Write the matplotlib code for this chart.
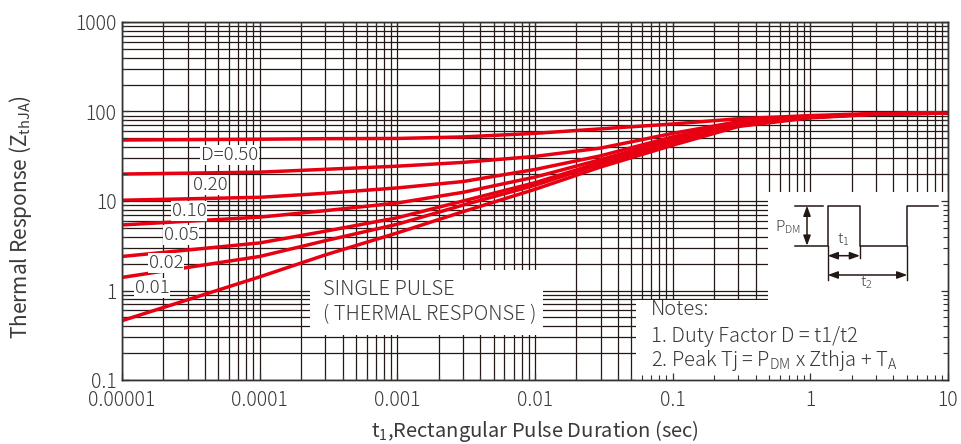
import matplotlib
matplotlib.use('Agg')
import matplotlib.pyplot as plt
from matplotlib.patches import Rectangle

plt.rcParams['font.family'] = ['Noto Sans CJK JP', 'DejaVu Sans']
plt.rcParams['mathtext.default'] = 'regular'

# ---- data ----
t = [1e-5, 1e-4, 3e-4, 1e-3, 3e-3, 1e-2, 3e-2, 1e-1, 3e-1, 1, 3, 10]
z_d050 = [48, 49, 49.7, 50, 52, 57, 64, 72.5, 83, 90, 95, 96]
z_d020 = [20, 21, 22.6, 24.5, 27, 31.5, 39, 57, 77, 88, 94, 96]
z_d010 = [10.2, 11, 12.2, 14, 16.5, 22.5, 32, 52, 74, 87, 94, 96]
z_d005 = [5.4, 6.6, 7.8, 9.5, 12.5, 18.5, 29, 49, 72, 87, 94, 96]
z_d002 = [2.4, 3.4, 4.6, 6.5, 10, 16, 27, 47, 71, 86, 94, 96]
z_d001 = [1.4, 2.4, 3.6, 5.5, 9, 15, 26, 44.5, 70, 86, 94, 96]
z_single = [0.46, 1.42, 2.5, 4.4, 7.6, 13.5, 24, 42, 68, 85, 93, 96]

series = [z_d050, z_d020, z_d010, z_d005, z_d002, z_d001, z_single]
curve_labels = ['D=0.50', '0.20', '0.10', '0.05', '0.02', '0.01']
label_t = [6.0e-5, 4.35e-5, 3.07e-5, 2.68e-5, 2.09e-5, 1.65e-5]
label_z = [32.7, 15.1, 7.7, 4.17, 2.03, 1.07]

x_ticks = [1e-5, 1e-4, 1e-3, 1e-2, 1e-1, 1, 10]
x_ticklabels = ['0.00001', '0.0001', '0.001', '0.01', '0.1', '1', '10']
y_ticks = [0.1, 1, 10, 100, 1000]
y_ticklabels = ['0.1', '1', '10', '100', '1000']

RED = '#e60012'
GRID = '#231815'
TXT = '#3a3a3a'
W = 'light'

fig = plt.figure(figsize=(9.62, 4.44), dpi=100)
pos = [122/962, 1-380/444, 826/962, 358/444]
ax = fig.add_axes(pos)
ax.set_xscale('log')
ax.set_yscale('log')
ax.set_xlim(1e-5, 10)
ax.set_ylim(0.1, 1000)
ax.set_axisbelow(True)
ax.grid(True, which='both', color=GRID, lw=0.9)
ax.set_xticks(x_ticks)
ax.set_xticklabels(x_ticklabels, fontweight=W)
ax.set_yticks(y_ticks)
ax.set_yticklabels(y_ticklabels, fontweight=W)
ax.tick_params(which='both', length=0, labelsize=14, labelcolor=TXT)
ax.tick_params(axis='x', pad=7)
ax.tick_params(axis='y', pad=4)
for s in ax.spines.values():
    s.set_color('#333333')
    s.set_linewidth(1.0)

for z in series:
    ax.plot(t, z, color=RED, lw=2.5, zorder=3, solid_capstyle='butt', solid_joinstyle='round')

for lab, lx, lz in zip(curve_labels, label_t, label_z):
    ax.text(lx, lz, lab, fontsize=13.5, color=TXT, ha='center', va='center', zorder=5,
            fontweight=W, bbox=dict(facecolor='white', edgecolor='none', pad=0.5))

def fx(px):
    return (px - 122) / 826

def fy(py):
    return (380 - py) / 358

# white panels
for (x0, y0, x1, y1) in [(310, 270, 543, 335), (636, 300, 948, 380), (768, 192, 948, 300)]:
    ax.add_patch(Rectangle((fx(x0), fy(y1)), fx(x1) - fx(x0), fy(y0) - fy(y1),
                           transform=ax.transAxes, facecolor='white', edgecolor='none', zorder=1))

tk = dict(transform=ax.transAxes, fontsize=14.5, color=TXT, ha='left', zorder=5, fontweight=W)
ax.text(fx(323), fy(289), 'SINGLE PULSE', va='center', **tk)
ax.text(fx(323), fy(315), '( THERMAL RESPONSE )', va='center', **tk)
ax.text(fx(651), fy(309), 'Notes:', va='center', **tk)
ax.text(fx(651), fy(336), '1. Duty Factor D = t1/t2', va='center', **tk)
ax.text(fx(651), fy(366), '2. Peak Tj = P$_{DM}$ x Zthja + T$_{A}$', va='baseline', **tk)

# pulse diagram
K = '#231815'
wx = [795, 827.7, 827.7, 860, 860, 907.3, 907.3, 938.3]
wy = [245.7, 245.7, 205.7, 205.7, 245.7, 245.7, 205.7, 205.7]
ax.plot([fx(v) for v in wx], [fy(v) for v in wy], transform=ax.transAxes, color=K, lw=1.1, zorder=6,
        clip_on=False)
ax.plot([fx(795), fx(823)], [fy(205.7)] * 2, transform=ax.transAxes, color=K, lw=1.1, zorder=6)
for (xa, ya, yb) in [(827.7, 245.7, 280), (860, 245.7, 258), (907.3, 245.7, 280)]:
    ax.plot([fx(xa)] * 2, [fy(ya), fy(yb)], transform=ax.transAxes, color=K, lw=1.0, zorder=6)
arr = dict(arrowstyle='<|-|>,head_length=0.6,head_width=0.22', color=K, lw=1.1,
           shrinkA=0, shrinkB=0)
ax.annotate('', xy=(fx(807), fy(205.7)), xytext=(fx(807), fy(245.7)), xycoords='axes fraction',
            textcoords='axes fraction', arrowprops=arr, zorder=6)
ax.annotate('', xy=(fx(827.7), fy(255.7)), xytext=(fx(860), fy(255.7)), xycoords='axes fraction',
            textcoords='axes fraction', arrowprops=arr, zorder=6)
ax.annotate('', xy=(fx(827.7), fy(275)), xytext=(fx(907.3), fy(275)), xycoords='axes fraction',
            textcoords='axes fraction', arrowprops=arr, zorder=6)
sk = dict(transform=ax.transAxes, fontsize=11, color=TXT, va='center', zorder=6, fontweight=W)
ax.text(fx(801), fy(227), 'P$_{DM}$', ha='right', **sk)
ax.text(fx(843), fy(240), 't$_{1}$', ha='center', **sk)
ax.text(fx(866), fy(283), 't$_{2}$', ha='center', **sk)

# overlay axes for inward ticks above the white panels
ax2 = fig.add_axes(pos, sharex=ax, sharey=ax)
ax2.set_facecolor('none')
ax2.tick_params(which='both', direction='in', top=True, right=True, labelbottom=False,
                labelleft=False, color='#333333')
ax2.tick_params(which='major', length=5, width=0.9)
ax2.tick_params(which='minor', length=3.5, width=0.8)
for s in ax2.spines.values():
    s.set_color('#333333')
    s.set_linewidth(1.0)

ax.set_xlabel('t$_{1}$,Rectangular Pulse Duration (sec)', fontsize=14.5, color=TXT, labelpad=5)
ax.set_ylabel('Thermal Response (Z$_{thJA}$)', fontsize=15, color=TXT)
ax.yaxis.set_label_coords(fx(34), fy(217))

fig.savefig('out.png', dpi=100)
